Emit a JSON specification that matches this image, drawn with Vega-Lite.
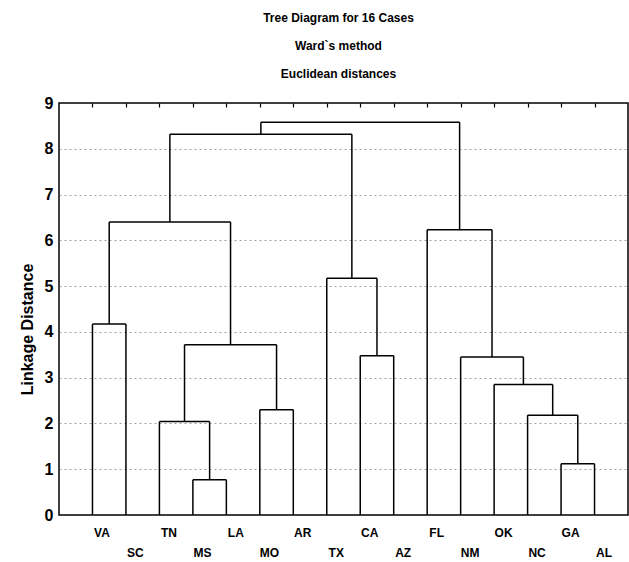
{
  "$schema": "https://vega.github.io/schema/vega-lite/v6.json",
  "width": 569,
  "height": 412,
  "autosize": {"type": "none"},
  "padding": {"left": 59, "top": 103, "right": 1, "bottom": 47},
  "background": "white",
  "config": {
    "view": {"stroke": "black", "strokeWidth": 1.5},
    "font": "Liberation Sans"
  },
  "title": {
    "text": ["Tree Diagram for 16 Cases", "Ward`s method", "Euclidean distances"],
    "font": "Liberation Sans",
    "fontSize": 12,
    "fontWeight": "bold",
    "lineHeight": 28,
    "anchor": "middle",
    "frame": "group",
    "offset": 14,
    "dx": -5,
    "color": "black"
  },
  "data": {
    "values": [
      {"x": 4, "x2": 5, "y": 0.77, "y2": 0.77},
      {"x": 3, "x2": 4.5, "y": 2.04, "y2": 2.04},
      {"x": 6, "x2": 7, "y": 2.3, "y2": 2.3},
      {"x": 3.75, "x2": 6.5, "y": 3.72, "y2": 3.72},
      {"x": 1, "x2": 2, "y": 4.17, "y2": 4.17},
      {"x": 1.5, "x2": 5.125, "y": 6.4, "y2": 6.4},
      {"x": 9, "x2": 10, "y": 3.48, "y2": 3.48},
      {"x": 8, "x2": 9.5, "y": 5.17, "y2": 5.17},
      {"x": 3.3125, "x2": 8.75, "y": 8.32, "y2": 8.32},
      {"x": 15, "x2": 16, "y": 1.12, "y2": 1.12},
      {"x": 14, "x2": 15.5, "y": 2.18, "y2": 2.18},
      {"x": 13, "x2": 14.75, "y": 2.85, "y2": 2.85},
      {"x": 12, "x2": 13.875, "y": 3.45, "y2": 3.45},
      {"x": 11, "x2": 12.9375, "y": 6.23, "y2": 6.23},
      {"x": 6.03125, "x2": 11.96875, "y": 8.58, "y2": 8.58},
      {"x": 1, "x2": 1, "y": 0, "y2": 4.17},
      {"x": 2, "x2": 2, "y": 0, "y2": 4.17},
      {"x": 3, "x2": 3, "y": 0, "y2": 2.04},
      {"x": 4, "x2": 4, "y": 0, "y2": 0.77},
      {"x": 5, "x2": 5, "y": 0, "y2": 0.77},
      {"x": 6, "x2": 6, "y": 0, "y2": 2.3},
      {"x": 7, "x2": 7, "y": 0, "y2": 2.3},
      {"x": 8, "x2": 8, "y": 0, "y2": 5.17},
      {"x": 9, "x2": 9, "y": 0, "y2": 3.48},
      {"x": 10, "x2": 10, "y": 0, "y2": 3.48},
      {"x": 11, "x2": 11, "y": 0, "y2": 6.23},
      {"x": 12, "x2": 12, "y": 0, "y2": 3.45},
      {"x": 13, "x2": 13, "y": 0, "y2": 2.85},
      {"x": 14, "x2": 14, "y": 0, "y2": 2.18},
      {"x": 15, "x2": 15, "y": 0, "y2": 1.12},
      {"x": 16, "x2": 16, "y": 0, "y2": 1.12},
      {"x": 4.5, "x2": 4.5, "y": 0.77, "y2": 2.04},
      {"x": 3.75, "x2": 3.75, "y": 2.04, "y2": 3.72},
      {"x": 6.5, "x2": 6.5, "y": 2.3, "y2": 3.72},
      {"x": 5.125, "x2": 5.125, "y": 3.72, "y2": 6.4},
      {"x": 1.5, "x2": 1.5, "y": 4.17, "y2": 6.4},
      {"x": 3.3125, "x2": 3.3125, "y": 6.4, "y2": 8.32},
      {"x": 9.5, "x2": 9.5, "y": 3.48, "y2": 5.17},
      {"x": 8.75, "x2": 8.75, "y": 5.17, "y2": 8.32},
      {"x": 6.03125, "x2": 6.03125, "y": 8.32, "y2": 8.58},
      {"x": 15.5, "x2": 15.5, "y": 1.12, "y2": 2.18},
      {"x": 14.75, "x2": 14.75, "y": 2.18, "y2": 2.85},
      {"x": 13.875, "x2": 13.875, "y": 2.85, "y2": 3.45},
      {"x": 12.9375, "x2": 12.9375, "y": 3.45, "y2": 6.23},
      {"x": 11.96875, "x2": 11.96875, "y": 6.23, "y2": 8.58}
    ]
  },
  "layer": [
    {
      "mark": {"type": "rule", "color": "black", "strokeWidth": 1.5},
      "encoding": {
        "x": {
          "field": "x",
          "type": "quantitative",
          "scale": {"domain": [0, 17], "nice": false, "zero": false},
          "axis": {
            "orient": "bottom",
            "values": [1, 2, 3, 4, 5, 6, 7, 8, 9, 10, 11, 12, 13, 14, 15, 16],
            "labelExpr": "datum.value % 2 == 1 ? ['VA','SC','TN','MS','LA','MO','AR','TX','CA','AZ','FL','NM','OK','NC','GA','AL'][datum.value - 1] : ['', ['VA','SC','TN','MS','LA','MO','AR','TX','CA','AZ','FL','NM','OK','NC','GA','AL'][datum.value - 1]]",
            "ticks": false,
            "domain": false,
            "grid": false,
            "title": null,
            "labelFont": "Liberation Sans",
            "labelFontWeight": "bold",
            "labelFontSize": 12,
            "labelColor": "black",
            "labelOffset": 9,
            "labelPadding": 12,
            "labelBaseline": "top",
            "labelLineHeight": 20,
            "labelFlush": false,
            "labelOverlap": false,
            "labelBound": false
          }
        },
        "x2": {"field": "x2"},
        "y": {
          "field": "y",
          "type": "quantitative",
          "scale": {"domain": [0, 9], "nice": false},
          "axis": {
            "values": [0, 1, 2, 3, 4, 5, 6, 7, 8, 9],
            "grid": true,
            "gridDash": [2, 3],
            "gridColor": "#888888",
            "gridWidth": 0.8,
            "gridOpacity": {"condition": {"test": "datum.value == 0 || datum.value == 9", "value": 0}, "value": 1},
            "ticks": false,
            "domain": false,
            "labelFont": "Liberation Sans",
            "labelFontSize": 16,
            "labelFontWeight": "bold",
            "labelColor": "black",
            "labelPadding": 6,
            "title": "Linkage Distance",
            "titleFont": "Liberation Sans",
            "titleFontSize": 16,
            "titleFontWeight": "bold",
            "titleColor": "black",
            "titleX": -32,
            "titleY": 226,
            "titleAngle": -90,
            "titleAlign": "center",
            "titleBaseline": "middle"
          }
        },
        "y2": {"field": "y2"}
      }
    },
    {
      "mark": {"type": "rule", "color": "black", "opacity": 0},
      "encoding": {
        "x": {
          "field": "x",
          "type": "quantitative",
          "axis": {
            "orient": "top",
            "offset": -4,
            "zindex": 1,
            "values": [1, 2, 3, 4, 5, 6, 7, 8, 9, 10, 11, 12, 13, 14, 15, 16],
            "labels": false,
            "ticks": true,
            "tickSize": 4,
            "tickColor": "black",
            "tickWidth": 1.2,
            "tickOpacity": 1,
            "domain": false,
            "grid": false,
            "title": null
          }
        },
        "x2": {"field": "x2"},
        "y": {"field": "y", "type": "quantitative"},
        "y2": {"field": "y2"}
      }
    }
  ],
  "resolve": {"axis": {"x": "independent"}}
}
